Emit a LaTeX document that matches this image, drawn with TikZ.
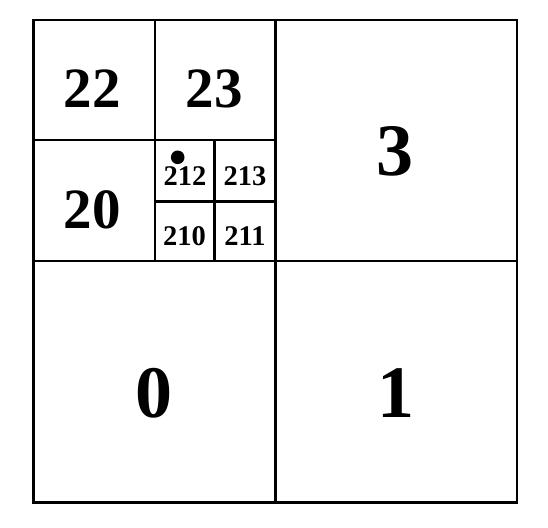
\documentclass[tikz,border=0pt]{standalone}
\usepackage{fontspec}
\setmainfont{Liberation Serif}
\begin{document}
\begin{tikzpicture}[x=1pt,y=-1pt,
  gridline/.style={line width=2.6pt,line cap=rect},
  bignum/.style={anchor=base,inner sep=0pt,font=\fontsize{74}{74}\selectfont\bfseries},
  midnum/.style={anchor=base,inner sep=0pt,font=\fontsize{57}{57}\selectfont\bfseries},
  smallnum/.style={anchor=base,inner sep=0pt,font=\fontsize{28.5}{28.5}\selectfont\bfseries}]
\useasboundingbox (0,0) rectangle (548,527);
% grid
\draw[gridline] (33.5,20) rectangle (517,502.5);
\draw[gridline] (275.3,20) -- (275.3,502.5);
\draw[gridline] (33.5,261) -- (517,261);
\draw[gridline] (155,20) -- (155,261);
\draw[gridline] (33.5,140) -- (275.3,140);
\draw[gridline] (214.3,140) -- (214.3,261);
\draw[gridline] (155,201.7) -- (275.3,201.7);
% labels
\node[midnum] (n22) at (92,107) {22};
\node[midnum] (n23) at (214,107) {23};
\node[midnum] (n20) at (92,228) {20};
\node[smallnum] (n212) at (185,185.5) {212};
\node[smallnum] (n213) at (245,185.5) {213};
\node[smallnum] (n210) at (184.5,245) {210};
\node[smallnum] (n211) at (245,245) {211};
\node[bignum] (n3) at (395,175.5) {3};
\node[bignum] (n0) at (154,417.5) {0};
\node[bignum] (n1) at (396,417.5) {1};
% point
\fill (177.7,157.3) circle (6.8);
\end{tikzpicture}
\end{document}
